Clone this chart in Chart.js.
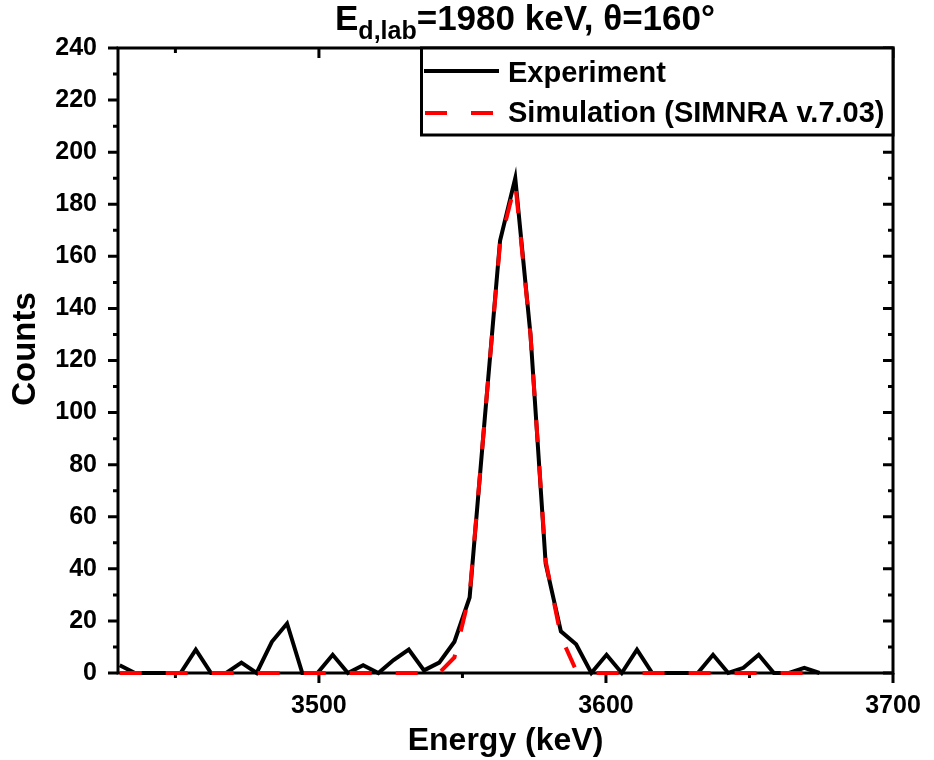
<!DOCTYPE html>
<html>
<head>
<meta charset="utf-8">
<script src="https://cdn.jsdelivr.net/npm/chart.js@4.4.0/dist/chart.umd.min.js"></script>
<style>
  html, body { margin: 0; padding: 0; background: #fff; }
  #wrap { position: relative; width: 934px; height: 760px; }
  #title {
    position: absolute; top: 0px; left: 525px; transform: translateX(-50%);
    white-space: nowrap; font: bold 35px "Liberation Sans", Arial, sans-serif;
    line-height: 35px; color: #000;
  }
  #title .sub { font-size: 25px; position: relative; top: 9px; }
</style>
</head>
<body>
<div id="wrap">
  <canvas id="chart" width="934" height="760"></canvas>
  <div id="title">E<span class="sub">d,lab</span>=1980 keV, θ=160°</div>
</div>
<script>
// channel energies (keV)
const energy = [
  3430.6, 3435.9, 3441.2, 3446.5, 3451.8, 3457.1, 3462.4, 3467.7, 3473.0, 3478.3,
  3483.6, 3488.9, 3494.2, 3499.5, 3504.8, 3510.1, 3515.4, 3520.7, 3526.0, 3531.3,
  3536.6, 3541.9, 3547.2, 3552.5, 3557.8, 3563.1, 3568.4, 3573.7, 3579.0, 3584.3,
  3589.6, 3594.9, 3600.2, 3605.5, 3610.8, 3616.1, 3621.4, 3626.7, 3632.0, 3637.3,
  3642.6, 3647.9, 3653.2, 3658.5, 3663.8, 3669.1, 3674.4,
];
const experiment = [
  3, 0, 0, 0, 0, 9, 0, 0, 4, 0,
  12, 19, 0, 0, 7, 0, 3, 0, 5, 9,
  1, 4, 12, 29, 98, 166, 190, 130, 42, 16,
  11, 0, 7, 0, 9, 0, 0, 0, 0, 7,
  0, 2, 7, 0, 0, 2, 0,
];
const simulation = [
  0, 0, 0, 0, 0, 0, 0, 0, 0, 0,
  0, 0, 0, 0, 0, 0, 0, 0, 0, 0,
  0, 0, 6, 30, 98, 165, 188, 130, 43, 14,
  1, 0, 0, 0, 0, 0, 0, 0, 0, 0,
  0, 0, 0, 0, 0, 0, 0,
];
const xMajor = [3500, 3600, 3700];
const xMinor = [3450, 3550, 3650];
const yMajor = [0, 20, 40, 60, 80, 100, 120, 140, 160, 180, 200, 220, 240];
const yMinor = [10, 30, 50, 70, 90, 110, 130, 150, 170, 190, 210, 230];

const FONT = '"Liberation Sans", Arial, sans-serif';

const framePlugin = {
  id: 'frame',
  beforeDatasetsDraw(chart) {
    const { ctx, chartArea: a, scales: { x, y } } = chart;
    ctx.save();
    ctx.strokeStyle = '#000';
    ctx.lineWidth = 3;
    ctx.beginPath();
    const xt = (v, len) => {
      const px = x.getPixelForValue(v);
      ctx.moveTo(px, a.bottom); ctx.lineTo(px, a.bottom + len);
      ctx.moveTo(px, a.top); ctx.lineTo(px, a.top + len);
    };
    xMajor.forEach(v => xt(v, 10));
    xMinor.forEach(v => xt(v, 5));
    const yt = (v, len) => {
      const py = y.getPixelForValue(v);
      ctx.moveTo(a.left, py); ctx.lineTo(a.left - len, py);
      ctx.moveTo(a.right, py); ctx.lineTo(a.right - len, py);
    };
    yMajor.forEach(v => yt(v, 10));
    yMinor.forEach(v => yt(v, 5));
    ctx.stroke();
    ctx.strokeRect(a.left, a.top, a.right - a.left, a.bottom - a.top);

    // y axis title
    ctx.translate(26, 349);
    ctx.rotate(-Math.PI / 2);
    ctx.fillStyle = '#000';
    ctx.font = 'bold 33px ' + FONT;
    ctx.textAlign = 'center';
    ctx.textBaseline = 'middle';
    ctx.fillText('Counts', 0, 0);
    ctx.restore();
  },
  afterDatasetsDraw(chart) {
    const { ctx, chartArea: a } = chart;
    ctx.save();
    const lx = 421.5, ly = a.top, lw = a.right - lx, lh = 135 - a.top;
    ctx.fillStyle = '#fff';
    ctx.fillRect(lx, ly, lw, lh);
    ctx.strokeStyle = '#000';
    ctx.lineWidth = 3;
    ctx.strokeRect(lx, ly, lw, lh);
    ctx.lineWidth = 4;
    ctx.beginPath();
    ctx.moveTo(424, 71); ctx.lineTo(499, 71);
    ctx.stroke();
    ctx.strokeStyle = '#ff0000';
    ctx.setLineDash([22, 24]);
    ctx.beginPath();
    ctx.moveTo(425, 113); ctx.lineTo(494, 113);
    ctx.stroke();
    ctx.setLineDash([]);
    ctx.fillStyle = '#000';
    ctx.font = 'bold 29px ' + FONT;
    ctx.textAlign = 'left';
    ctx.textBaseline = 'alphabetic';
    ctx.fillText('Experiment', 508, 82);
    ctx.fillText('Simulation (SIMNRA v.7.03)', 508, 122);
    ctx.restore();
  },
};

new Chart(document.getElementById('chart'), {
  type: 'line',
  data: {
    datasets: [
      {
        label: 'Experiment',
        data: energy.map((e, i) => ({ x: e, y: experiment[i] })),
        borderColor: '#000',
        borderWidth: 4,
        pointRadius: 0,
        tension: 0,
        clip: { left: 0, top: 0, right: 0, bottom: 4 },
        order: 2,
      },
      {
        label: 'Simulation (SIMNRA v.7.03)',
        data: energy.map((e, i) => ({ x: e, y: simulation[i] })),
        borderColor: '#ff0000',
        borderWidth: 4,
        borderDash: [22, 24],
        pointRadius: 0,
        tension: 0,
        clip: { left: 0, top: 0, right: 0, bottom: 4 },
        order: 1,
      },
    ],
  },
  options: {
    responsive: false,
    animation: false,
    events: [],
    layout: { padding: { top: 48, right: 41, left: 0, bottom: 0 } },
    plugins: { legend: { display: false }, tooltip: { enabled: false } },
    scales: {
      x: {
        type: 'linear',
        min: 3430,
        max: 3700,
        afterFit: s => { s.height = 87; },
        border: { display: false },
        grid: { display: true, drawOnChartArea: false, drawTicks: true, tickLength: 10, color: 'transparent' },
        ticks: {
          stepSize: 100,
          includeBounds: false,
          padding: 8,
          color: '#000',
          font: { family: FONT, size: 25, weight: 'bold' },
          callback: v => xMajor.includes(v) ? String(v) : '',
        },
        title: {
          display: true,
          text: 'Energy (keV)',
          color: '#000',
          padding: { top: 0, bottom: 0 },
          font: { family: FONT, size: 32, weight: 'bold' },
        },
      },
      y: {
        min: 0,
        max: 240,
        afterFit: s => { s.width = 118; },
        border: { display: false },
        grid: { display: true, drawOnChartArea: false, drawTicks: true, tickLength: 10, color: 'transparent' },
        ticks: {
          stepSize: 20,
          padding: 11,
          color: '#000',
          font: { family: FONT, size: 25, weight: 'bold' },
          callback: v => String(v),
        },
      },
    },
  },
  plugins: [framePlugin],
});
</script>
</body>
</html>
